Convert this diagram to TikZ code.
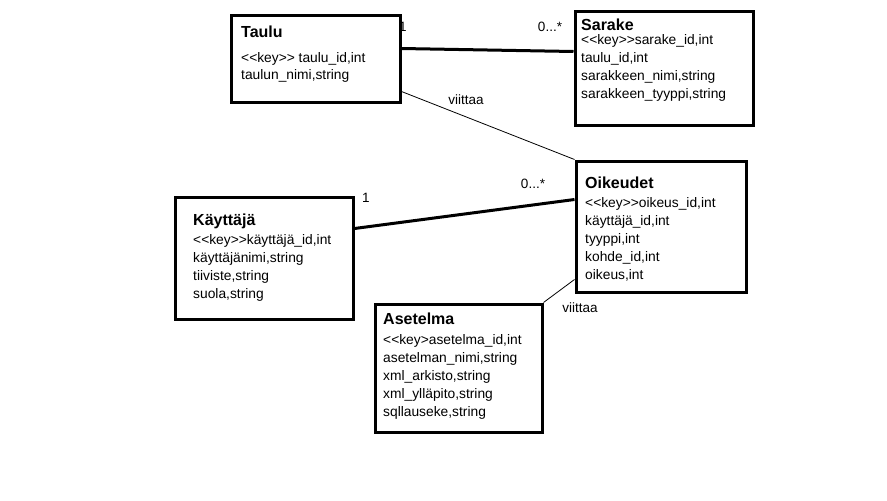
\documentclass[tikz,border=0pt]{standalone}
\usepackage{fontspec}
\setmainfont{Liberation Sans}
\usetikzlibrary{positioning}

\newcommand{\keytag}[1]{<\kern0pt<key>#1}

\begin{document}
\begin{tikzpicture}[
  x=1pt, y=-1pt,
  font=\fontsize{13.8}{18}\selectfont,
  entity/.style={draw, line width=3pt, inner sep=0pt, anchor=north west},
  attrs/.style={align=left, inner sep=0pt},
  lbl/.style={font=\fontsize{13.5}{14}\selectfont, inner sep=0pt},
  strong/.style={line width=3pt},
  thin/.style={line width=0.8pt}
]
\useasboundingbox (0,0) rectangle (887,501);

% boxes
\node[entity, minimum width=169pt, minimum height=87pt] (taulu) at (229.5,13.5) {};
\node[entity, minimum width=178pt, minimum height=114pt] (sarake) at (573.5,9.5) {};
\node[entity, minimum width=170pt, minimum height=131pt] (oikeudet) at (574.5,159.5) {};
\node[entity, minimum width=178pt, minimum height=122pt] (kayttaja) at (173.5,195.5) {};
\node[entity, minimum width=167pt, minimum height=128pt] (asetelma) at (373.5,302.5) {};

% texts
\node[attrs, below right=12pt and 11.5pt of taulu.north west] (taulu-txt)
  {{\fontsize{16}{18}\selectfont\bfseries Taulu}\\[7pt]
   \keytag{\kern0pt>} taulu\_id,int\\[-1pt]
   taulun\_nimi,string};
\node[attrs, below right=9pt and 7.5pt of sarake.north west] (sarake-txt)
  {{\fontsize{16}{18}\selectfont\bfseries Sarake}\\[-4pt]
   \keytag{\kern0pt>}sarake\_id,int\\
   taulu\_id,int\\
   sarakkeen\_nimi,string\\
   sarakkeen\_tyyppi,string};
\node[attrs, below right=17pt and 10.5pt of oikeudet.north west] (oikeudet-txt)
  {{\fontsize{16}{18}\selectfont\bfseries Oikeudet}\\[1pt]
   \keytag{\kern0pt>}oikeus\_id,int\\
   käyttäjä\_id,int\\
   tyyppi,int\\
   kohde\_id,int\\
   oikeus,int};
\node[attrs, below right=18pt and 19.5pt of kayttaja.north west] (kayttaja-txt)
  {{\fontsize{16}{18}\selectfont\bfseries Käyttäjä}\\[1pt]
   \keytag{\kern0pt>}käyttäjä\_id,int\\
   käyttäjänimi,string\\
   tiiviste,string\\
   suola,string};
\node[attrs, below right=10pt and 9.5pt of asetelma.north west] (asetelma-txt)
  {{\fontsize{16}{18}\selectfont\bfseries Asetelma}\\[2pt]
   \keytag{}asetelma\_id,int\\
   asetelman\_nimi,string\\
   xml\_arkisto,string\\
   xml\_ylläpito,string\\
   sqllauseke,string};

% connectors
\draw[strong] ([yshift=10pt]taulu.east) -- ([yshift=16.5pt]sarake.west);
\draw[thin] ([yshift=-33pt]taulu.east) -- (oikeudet.north west);
\draw[strong] ([yshift=29.5pt]kayttaja.east) -- ([yshift=27pt]oikeudet.west);
\draw[thin] (asetelma.north east) -- ([yshift=-53pt]oikeudet.west);

% multiplicities and roles
\node[lbl] (m1) at (403,27) {1};
\node[lbl] (m2) at (550,27) {0...*};
\node[lbl] (m3) at (366,198) {1};
\node[lbl] (m4) at (533,184) {0...*};
\node[lbl] (r1) at (466,100) {viittaa};
\node[lbl] (r2) at (580,308) {viittaa};
\end{tikzpicture}
\end{document}
